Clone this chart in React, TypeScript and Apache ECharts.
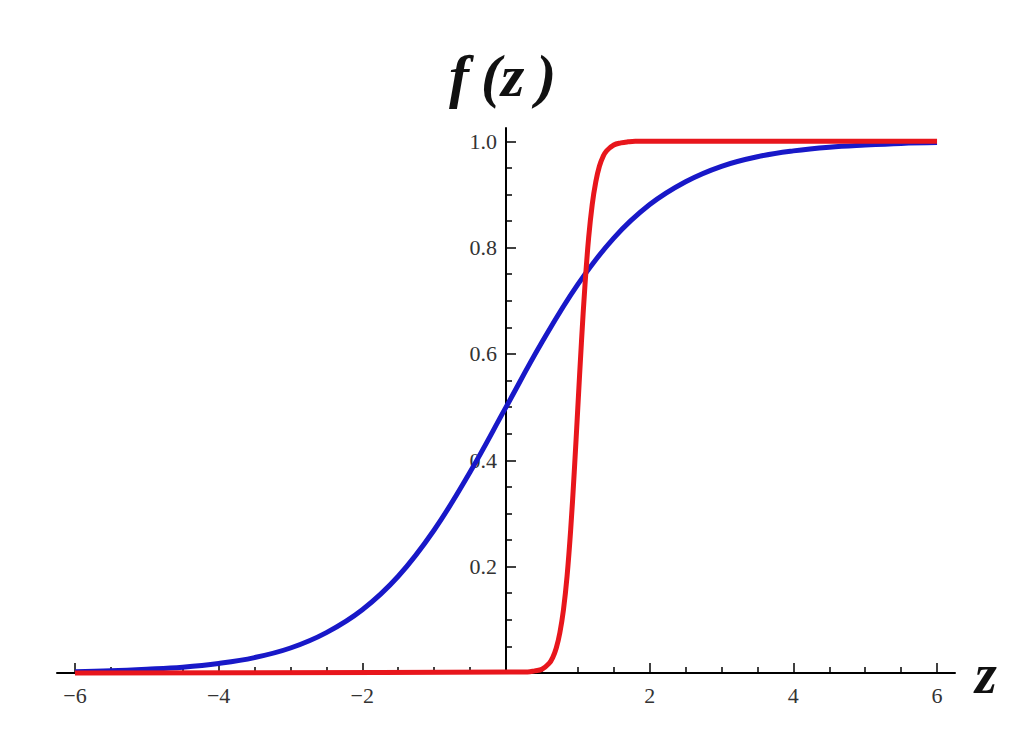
import React, { useEffect, useRef } from "react";
import * as echarts from "echarts";

const blueZ = [-6, -5.5, -5, -4.5, -4, -3.5, -3, -2.5, -2, -1.5, -1, -0.5, 0, 0.5, 1, 1.5, 2, 2.5, 3, 3.5, 4, 4.5, 5, 5.5, 6];
const blueF = [0.0025, 0.004, 0.007, 0.011, 0.018, 0.029, 0.047, 0.076, 0.119, 0.182, 0.269, 0.378, 0.5, 0.622, 0.731, 0.818, 0.881, 0.924, 0.953, 0.971, 0.982, 0.989, 0.993, 0.996, 0.9975];

const redZ = [-6, 0.3, 0.4, 0.5, 0.6, 0.65, 0.7, 0.75, 0.8, 0.85, 0.9, 0.95, 1.0, 1.05, 1.1, 1.15, 1.2, 1.25, 1.3, 1.35, 1.4, 1.5, 1.6, 1.7, 1.8, 6];
const redF = [0, 0.002, 0.004, 0.007, 0.018, 0.029, 0.047, 0.076, 0.119, 0.182, 0.269, 0.378, 0.5, 0.622, 0.731, 0.818, 0.881, 0.924, 0.953, 0.971, 0.982, 0.993, 0.997, 0.999, 1.0, 1.0];

const xMajorTicks = [-6, -4, -2, 2, 4, 6];
const xMinorTicks = [-5.5, -5, -4.5, -3.5, -3, -2.5, -1.5, -1, -0.5, 0.5, 1, 1.5, 2.5, 3, 3.5, 4.5, 5, 5.5];
const yMajorTicks = [0.2, 0.4, 0.6, 0.8, 1.0];
const yMinorTicks = [0.05, 0.1, 0.15, 0.25, 0.3, 0.35, 0.45, 0.5, 0.55, 0.65, 0.7, 0.75, 0.85, 0.9, 0.95];

const labelFont = "'Liberation Serif', 'DejaVu Serif', serif";

// grid geometry: x from -6.25..6.25 over 898px starting at 57 => x=0 at 506
const GRID_LEFT = 57;
const GRID_WIDTH = 898;
const Y_AXIS_SHIFT = -GRID_WIDTH / 2;

export default function App() {
  const ref = useRef<HTMLDivElement>(null);
  useEffect(() => {
    document.body.style.margin = "0";
    const chart = echarts.init(ref.current!, null, { renderer: "svg" });
    const axisLineStyle = { color: "#000", width: 2 };
    const tickStyle = { color: "#000", width: 1.5 };
    chart.setOption({
      animation: false,
      backgroundColor: "#fff",
      grid: { left: GRID_LEFT, width: GRID_WIDTH, top: 128, bottom: 74, containLabel: false },
      xAxis: [
        {
          type: "value",
          min: -6.25,
          max: 6.25,
          axisLine: { show: true, onZero: false, lineStyle: axisLineStyle },
          axisTick: { show: true, inside: true, length: 10, customValues: xMajorTicks, lineStyle: tickStyle },
          axisLabel: {
            show: true,
            customValues: xMajorTicks,
            margin: 11,
            fontFamily: labelFont,
            fontSize: 22,
            color: "#333",
            formatter: (v: number) => (v < 0 ? "\u2212" + Math.abs(v) : String(v)),
          },
          splitLine: { show: false },
        },
        {
          type: "value",
          min: -6.25,
          max: 6.25,
          position: "bottom",
          axisLine: { show: false, onZero: false },
          axisTick: { show: true, inside: true, length: 6, customValues: xMinorTicks, lineStyle: tickStyle },
          axisLabel: { show: false },
          splitLine: { show: false },
        },
      ],
      yAxis: [
        {
          type: "value",
          min: 0,
          max: 1.025,
          position: "left",
          offset: Y_AXIS_SHIFT,
          axisLine: { show: true, onZero: false, lineStyle: axisLineStyle },
          axisTick: { show: true, inside: true, length: 10, customValues: yMajorTicks, lineStyle: tickStyle },
          axisLabel: {
            show: true,
            customValues: yMajorTicks,
            margin: 9,
            fontFamily: labelFont,
            fontSize: 22,
            color: "#333",
            formatter: (v: number) => v.toFixed(1),
          },
          splitLine: { show: false },
        },
        {
          type: "value",
          min: 0,
          max: 1.025,
          position: "left",
          offset: Y_AXIS_SHIFT,
          axisLine: { show: false, onZero: false },
          axisTick: { show: true, inside: true, length: 6, customValues: yMinorTicks, lineStyle: tickStyle },
          axisLabel: { show: false },
          splitLine: { show: false },
        },
      ],
      graphic: [
        {
          type: "text",
          left: 449,
          top: 46,
          style: {
            text: "f\u2009(z\u2009)",
            font: "italic bold 60px 'Liberation Serif', serif",
            fill: "#111",
          },
        },
        {
          type: "text",
          left: 975,
          top: 646,
          style: {
            text: "z",
            font: "italic bold 56px 'Liberation Serif', serif",
            fill: "#111",
          },
        },
      ],
      series: [
        {
          type: "line",
          xAxisIndex: 0,
          yAxisIndex: 0,
          data: blueZ.map((z, i) => [z, blueF[i]]),
          showSymbol: false,
          smooth: 0.4,
          lineStyle: { color: "#1818c8", width: 5 },
          itemStyle: { color: "#1818c8" },
          clip: false,
        },
        {
          type: "line",
          xAxisIndex: 0,
          yAxisIndex: 0,
          data: redZ.map((z, i) => [z, redF[i]]),
          showSymbol: false,
          smooth: 0.4,
          lineStyle: { color: "#e8161c", width: 5 },
          itemStyle: { color: "#e8161c" },
          clip: false,
        },
      ],
    });
    return () => chart.dispose();
  }, []);
  return <div ref={ref} style={{ width: 1036, height: 747 }} />;
}
